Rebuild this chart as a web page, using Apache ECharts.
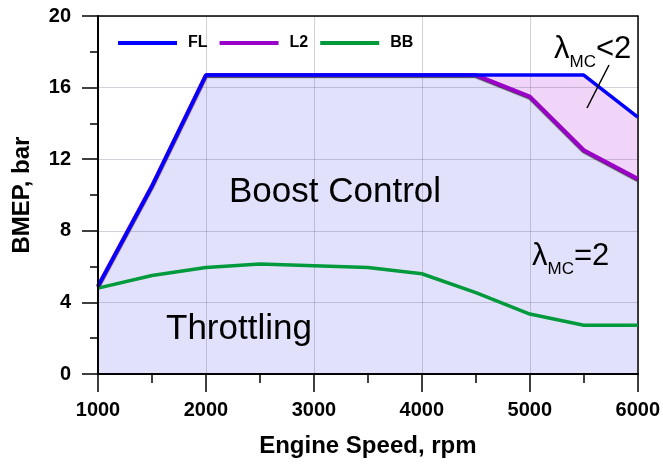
<!DOCTYPE html>
<html>
<head>
<meta charset="utf-8">
<script src="https://cdn.jsdelivr.net/npm/echarts@6/dist/echarts.min.js"></script>
<style>html,body{margin:0;padding:0;background:#fff}#c{width:663px;height:466px}</style>
</head>
<body>
<div id="c"></div>
<script>
const speeds = [1000, 1500, 2000, 2500, 3000, 3500, 4000, 4500, 5000, 5500, 6000];
const fl = [4.9, 10.5, 16.7, 16.7, 16.7, 16.7, 16.7, 16.7, 16.7, 16.7, 14.35];
const l2 = [4.9, 10.5, 16.7, 16.7, 16.7, 16.7, 16.7, 16.7, 15.5, 12.5, 10.9];
const bb = [4.8, 5.5, 5.95, 6.15, 6.05, 5.95, 5.6, 4.55, 3.35, 2.72, 2.72];
const seriesNames = ['FL', 'L2', 'BB'];
const xTitle = 'Engine Speed, rpm';
const yTitle = 'BMEP, bar';

const pair = (ys) => speeds.map((x, i) => [x, ys[i]]);
const FONT = 'Liberation Sans, Arial, sans-serif';
const gridLine = {show: true, lineStyle: {color: 'rgba(90,90,120,0.27)', width: 1}};
const frameAxis = {
  z: 2,
  axisLine: {show: true, onZero: false, lineStyle: {color: '#000', width: 1.5}},
  axisTick: {show: false}, axisLabel: {show: false}, splitLine: gridLine
};

const chart = echarts.init(document.getElementById('c'));
chart.setOption({
  animation: false,
  grid: {left: 98, right: 25, top: 16, bottom: 92},
  legend: {
    data: seriesNames,
    left: 113, top: 30, z: 10,
    icon: 'rect',
    itemWidth: 59, itemHeight: 4, itemGap: 12,
    textStyle: {fontFamily: FONT, fontWeight: 'bold', fontSize: 16, color: '#000', padding: [0, 0, 0, 6]}
  },
  xAxis: [{
    type: 'value', min: 1000, max: 6000, interval: 1000, position: 'bottom', z: 4,
    name: xTitle, nameLocation: 'middle', nameGap: 60,
    nameTextStyle: {fontFamily: FONT, fontWeight: 'bold', fontSize: 24, color: '#000'},
    axisLine: {show: true, onZero: false, lineStyle: {color: '#000', width: 2}},
    axisTick: {show: true, inside: false, length: 18, lineStyle: {color: '#000', width: 1.5}},
    minorTick: {show: true, splitNumber: 2, length: 9, lineStyle: {color: '#000', width: 1.5}},
    axisLabel: {fontFamily: FONT, fontWeight: 'bold', fontSize: 20, color: '#000', margin: 26,
      formatter: (v) => String(v)},
    splitLine: {show: false}
  }, Object.assign({type: 'value', min: 1000, max: 6000, interval: 1000, position: 'top'}, frameAxis)],
  yAxis: [{
    type: 'value', min: 0, max: 20, interval: 4, position: 'left', z: 4,
    name: yTitle, nameLocation: 'middle', nameGap: 64,
    nameTextStyle: {fontFamily: FONT, fontWeight: 'bold', fontSize: 24, color: '#000'},
    axisLine: {show: true, onZero: false, lineStyle: {color: '#000', width: 2}},
    axisTick: {show: true, inside: false, length: 16, lineStyle: {color: '#000', width: 1.5}},
    minorTick: {show: true, splitNumber: 2, length: 8, lineStyle: {color: '#000', width: 1.5}},
    axisLabel: {fontFamily: FONT, fontWeight: 'bold', fontSize: 20, color: '#000', margin: 27},
    splitLine: {show: false}
  }, Object.assign({type: 'value', min: 0, max: 20, interval: 4, position: 'right'}, frameAxis)],
  series: [
    {name: 'FL-area', type: 'line', z: 1, data: pair(fl), symbol: 'none', silent: true,
     lineStyle: {width: 0, opacity: 0}, areaStyle: {color: '#f1d5f9', opacity: 1}},
    {name: 'L2-area', type: 'line', z: 1, data: pair(l2), symbol: 'none', silent: true,
     lineStyle: {width: 0, opacity: 0}, areaStyle: {color: '#e1e1fb', opacity: 1}},
    {name: 'L2', type: 'line', z: 3, data: pair(l2), symbol: 'none',
     lineStyle: {color: '#9a00c8', width: 4, shadowColor: 'rgba(0,0,0,0.7)', shadowOffsetY: 1, shadowBlur: 1},
     itemStyle: {color: '#9a00c8'}},
    {name: 'BB', type: 'line', z: 3, data: pair(bb), symbol: 'none',
     lineStyle: {color: '#009a3c', width: 3.5}, itemStyle: {color: '#009a3c'}},
    {name: 'FL', type: 'line', z: 3, data: pair(fl), symbol: 'none',
     lineStyle: {color: '#0000ff', width: 3.5}, itemStyle: {color: '#0000ff'}}
  ],
  graphic: [
    {type: 'text', left: 229, top: 175, z: 100,
     style: {text: 'Boost Control', font: '35px ' + FONT, fill: '#000'}},
    {type: 'text', left: 166, top: 312, z: 100,
     style: {text: 'Throttling', font: '35px ' + FONT, fill: '#000'}},
    {type: 'text', left: 532, top: 241, z: 100,
     style: {text: '{a|λ}{b|MC}{a|=2}', fill: '#000',
       rich: {a: {fontFamily: FONT, fontSize: 31, fill: '#000', verticalAlign: 'bottom'},
              b: {fontFamily: FONT, fontSize: 17, fill: '#000', verticalAlign: 'bottom', padding: [0, 0, -6, 0]}}}},
    {type: 'text', left: 554, top: 34, z: 100,
     style: {text: '{a|λ}{b|MC}{a|<2}', fill: '#000',
       rich: {a: {fontFamily: FONT, fontSize: 31, fill: '#000', verticalAlign: 'bottom'},
              b: {fontFamily: FONT, fontSize: 17, fill: '#000', verticalAlign: 'bottom', padding: [0, 0, -6, 0]}}}},
    {type: 'line', z: 100, shape: {x1: 609, y1: 65, x2: 587, y2: 108}, style: {stroke: '#000', lineWidth: 1.5}}
  ]
});
</script>
</body>
</html>
